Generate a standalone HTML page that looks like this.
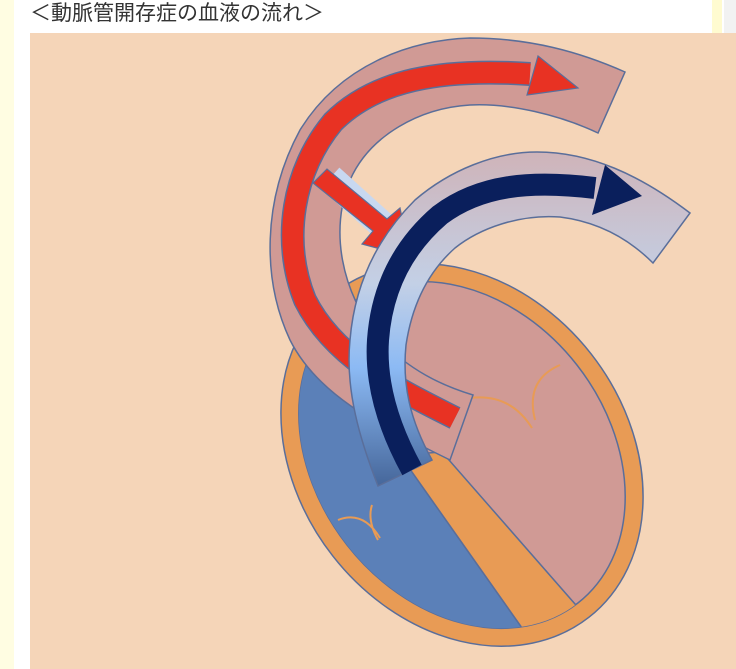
<!DOCTYPE html>
<html><head><meta charset="utf-8"><style>
html,body{margin:0;padding:0;width:736px;height:669px;overflow:hidden;background:#fff;}
.t{position:absolute;left:30px;top:0px;font:21px "Liberation Sans","Noto Sans CJK JP",sans-serif;color:#333;line-height:28px;white-space:nowrap;}
svg{display:block}
</style></head><body>
<div style="position:absolute;left:0;top:0;width:14px;height:669px;background:#fffde2"></div>
<div style="position:absolute;left:712px;top:0;width:10px;height:669px;background:#fffbd0"></div>
<div style="position:absolute;left:724px;top:0;width:12px;height:669px;background:#f2f2f2"></div>
<div class="t">＜動脈管開存症の血液の流れ＞</div>
<svg style="position:absolute;left:0;top:0" width="736" height="669" viewBox="0 0 736 669">
<defs>
<clipPath id="ci"><ellipse cx="462" cy="455" rx="188" ry="146" transform="rotate(52 462 455)"/></clipPath>
<linearGradient id="bg" x1="0" y1="150" x2="0" y2="485" gradientUnits="userSpaceOnUse">
<stop offset="0" stop-color="#cfb3b8"/><stop offset="0.4" stop-color="#c3d0e6"/><stop offset="0.65" stop-color="#8cbaf4"/><stop offset="1" stop-color="#46679b"/>
</linearGradient>
</defs>
<rect x="30" y="33" width="706" height="636" fill="#f5d5b8"/>
<ellipse cx="462" cy="455" rx="206" ry="164" transform="rotate(52 462 455)" fill="#e89b55" stroke="#5a6e9a" stroke-width="1.5"/>
<ellipse cx="462" cy="455" rx="188" ry="146" transform="rotate(52 462 455)" fill="#d09a95" stroke="#5a6e9a" stroke-width="1.5"/>
<g clip-path="url(#ci)">
<polygon points="250,300 400,455 527,635 250,700" fill="#5b80b8" stroke="#5a6e9a" stroke-width="1.5"/>
<polygon points="400,455 442,452 582,612 527,635" fill="#e89b55" stroke="#5a6e9a" stroke-width="1.5"/>
</g>
<path d="M338,520 q25,-10 42,18 M372,505 q-5,15 6,35" fill="none" stroke="#e89b55" stroke-width="2"/>
<path d="M470,398 q40,-5 62,30 M560,365 q-35,15 -25,55" fill="none" stroke="#e89b55" stroke-width="2"/>
<path d="M450,460 C390,430 320,400 290,340 C262,280 262,200 300,130 C340,65 410,40 470,38 C530,38 580,52 625,72 L598,133 C560,115 510,103 470,105 C420,108 370,135 350,180 C330,230 340,290 380,340 C410,370 440,385 473,395 Z" fill="#d09a95" stroke="#5a6e9a" stroke-width="1.5"/>
<path d="M455,418 C400,390 335,360 305,300 C281,240 293,170 333,122 C375,80 440,68 530,74" fill="none" stroke="#5a6e9a" stroke-width="24"/>
<path d="M455,418 C400,390 335,360 305,300 C281,240 293,170 333,122 C375,80 440,68 530,74" fill="none" stroke="#e83223" stroke-width="21"/>
<polygon points="538,56 578,88 527,95" fill="#e83223" stroke="#5a6e9a" stroke-width="1.2"/>
<path d="M330,178 L390,232" stroke="#c8d8f0" stroke-width="28" stroke-linecap="butt"/>
<polygon points="313,183 327,169 387,219 400,208 410,257 362,244 373,231" fill="#e83223" stroke="#5a6e9a" stroke-width="1.2"/>
<path d="M378,486 C360,440 345,390 350,340 C355,280 380,235 415,200 C450,170 495,152 537,152 C590,152 640,175 690,213 L653,263 C630,240 600,222 560,217 C520,214 480,228 455,248 C428,272 412,305 406,345 C402,385 410,420 432,460 Z" fill="url(#bg)" stroke="#5a6e9a" stroke-width="1.5"/>
<path d="M412,470 C390,430 375,385 378,340 C382,285 405,245 440,215 C480,185 530,180 595,188" fill="none" stroke="#0a1f5c" stroke-width="22"/>
<polygon points="605,165 642,196 592,215" fill="#0a1f5c"/>
</svg>
</body></html>
